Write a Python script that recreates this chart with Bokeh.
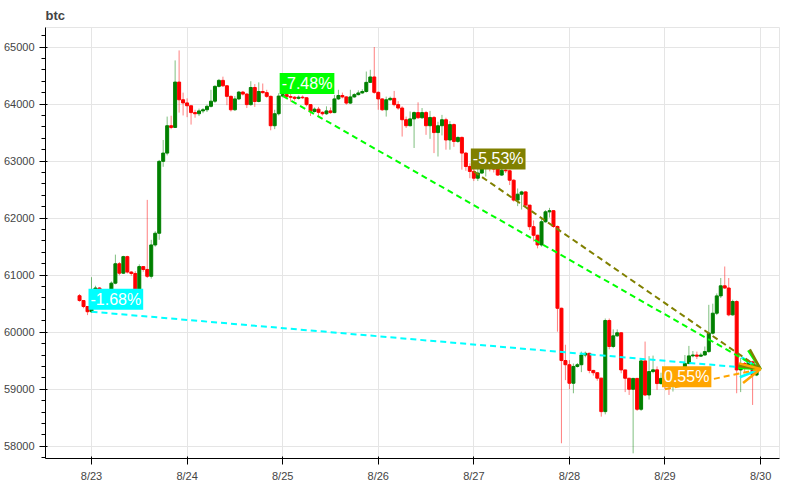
from bokeh.plotting import figure
from bokeh.models import ColumnDataSource, Arrow, OpenHead, Label, FixedTicker, Range1d
from bokeh.embed import file_html
from bokeh.resources import INLINE

# ---- data: hourly candles, hours counted from 8/23 00:00 ----
hours = list(range(-3, 168))
first_open = 60640
close = [
    60555, 60450, 60359, 60740, 60775, 60730, 60700, 60690, 60860, 61200,
    61035, 61325, 61055, 61030, 60700, 61150, 61100, 60980, 61530, 61735,
    62995, 63140, 63620, 63590, 64385, 64075, 64020, 63970, 63850, 63830,
    63880, 63900, 63960, 64050, 64310, 64415, 64320, 64135, 63900, 64090,
    64210, 64175, 63990, 64290, 64045, 64220, 64200, 64135, 63620, 63830,
    64140, 64165, 64130, 64120, 64100, 64120, 64110, 63990, 63870, 63910,
    63855, 63830, 63880, 63850, 64090, 64150, 64125, 64017, 64125, 64165,
    64195, 64220, 64380, 64475, 64205, 64090, 63900, 64075, 64100, 63990,
    63930, 63725, 63620, 63740, 63850, 63760, 63850, 63620, 63765, 63500,
    63620, 63725, 63370, 63640, 63345, 63415, 63140, 62905, 62819, 62700,
    62790, 62870, 62900, 62880, 62860, 62755, 62840, 62830, 62665, 62316,
    62420, 62460, 62228, 61850, 61700, 61530, 61936, 62110, 62130, 61854,
    60420, 59503, 59430, 59105, 59400, 59430, 59600, 59630, 59330, 59290,
    59195, 58608, 60205, 59750, 59936, 59990, 59339, 59193, 59000, 59190,
    58649, 59497, 58900, 59310, 59340, 59100, 59190, 59150, 59100, 59180,
    59200, 59230, 59450, 59585, 59600, 59580, 59600, 59660, 59983, 60333,
    60637, 60813, 60775, 60304, 60538, 59339, 59450, 59400, 59480, 59250,
    59355,
]
high = [
    60670, 60560, 60460, 60965, 60815, 60790, 60740, 60750, 60890, 61360,
    61230, 61340, 61340, 61070, 61070, 61190, 61160, 62320, 61620, 61770,
    63020, 63370, 63780, 63795, 64765, 64940, 64200, 64100, 63960, 63900,
    63920, 63930, 63990, 64250, 64330, 64440, 64480, 64330, 64150, 64140,
    64230, 64230, 64190, 64400, 64350, 64380, 64360, 64250, 64150, 63900,
    64190, 64200, 64170, 64180, 64140, 64150, 64150, 64120, 64000, 63940,
    63950, 63870, 63960, 63940, 64160, 64250, 64200, 64140, 64250, 64190,
    64240, 64260, 64570, 64600, 65000, 64220, 64100, 64130, 64130, 64230,
    64050, 63960, 63780, 63870, 63870, 64030, 63930, 63880, 63880, 63790,
    63690, 63810, 63760, 63700, 63660, 63430, 63430, 63160, 62960, 62900,
    63200, 62950, 62980, 62940, 62920, 62880, 62870, 62880, 62850, 62680,
    62520, 62480, 62470, 62230, 61960, 61710, 61990, 62140, 62180, 62140,
    61870, 60430, 59780, 59510, 59450, 59460, 59660, 59660, 59640, 59340,
    59300, 59200, 60240, 60240, 60050, 60050, 60000, 59340, 59200, 59200,
    59200, 59540, 59836, 59580, 59590, 59400, 59290, 59250, 59200, 59230,
    59260, 59300, 59600, 59760, 59670, 59660, 59640, 59750, 60480, 60500,
    60680, 60950, 61152, 60950, 60570, 60560, 59550, 59480, 59520, 59500,
    59370,
]
low = [
    60535, 60420, 60300, 60340, 60720, 60700, 60640, 60620, 60650, 60840,
    61000, 61020, 61030, 60990, 60680, 60680, 61060, 60950, 60940, 61500,
    61620, 62900, 63100, 63560, 63580, 63850, 63800, 63770, 63640, 63760,
    63790, 63840, 63860, 63940, 64020, 64290, 64300, 63980, 63870, 63880,
    64070, 64150, 63930, 63970, 63950, 64030, 64180, 64110, 63540, 63560,
    63800, 64120, 64100, 64040, 64060, 64080, 64090, 63960, 63790, 63850,
    63780, 63800, 63810, 63830, 63840, 64070, 64100, 63990, 64000, 64110,
    64150, 64180, 64200, 64370, 64180, 63900, 63880, 63780, 64060, 63960,
    63900, 63430, 63580, 63610, 63230, 63740, 63740, 63460, 63390, 63140,
    63080, 63450, 63200, 63200, 63250, 63320, 62850, 62830, 62700, 62650,
    62650, 62780, 62730, 62820, 62800, 62740, 62740, 62790, 62580, 62290,
    62210, 62150, 62200, 61790, 61590, 61470, 61500, 61920, 62010, 61830,
    60010, 58053, 59160, 59000, 58930, 59380, 59300, 59560, 59280, 59240,
    59150, 58520, 58560, 59700, 59720, 59920, 59280, 58950, 58900, 57877,
    58620, 58620, 58880, 58820, 59280, 58990, 59080, 59000, 58900, 58960,
    59100, 59150, 59200, 59440, 59560, 59530, 59570, 59590, 59640, 59960,
    60300, 60600, 60760, 60280, 60290, 58930, 58950, 59300, 59380, 58725,
    59230,
]

day_ticks = [0, 24, 48, 72, 96, 120, 144, 168]
day_labels = ["8/23", "8/24", "8/25", "8/26", "8/27", "8/28", "8/29", "8/30"]
price_ticks = [58000, 59000, 60000, 61000, 62000, 63000, 64000, 65000]

arrow_start_hour = [0, 48, 96, 144]
arrow_start_price = [60359, 64142, 62819, 59000]
arrow_end_hour = 168
arrow_labels = ["-1.68%", "-7.48%", "-5.53%", "0.55%"]
arrow_colors = ["#00ffff", "#00ff00", "#808000", "#ffa500"]

# ---- build ----
opens = [first_open] + close[:-1]
up = [c >= o for o, c in zip(opens, close)]
colors = ["#008000" if u else "#ff0000" for u in up]
src = ColumnDataSource(dict(
    x=hours, open=opens, close=close, high=high, low=low,
    top=[max(o, c) for o, c in zip(opens, close)],
    bottom=[min(o, c) for o, c in zip(opens, close)],
    color=colors,
))

p = figure(width=784, height=484, title="btc", output_backend="svg",
           toolbar_location=None,
           x_range=Range1d(-11.55, 172.75), y_range=Range1d(57786, 65342))
p.min_border_left = 5
p.min_border_right = 5
p.title.text_color = "#444444"
p.title.text_font_size = "13px"

p.segment(x0="x", y0="high", x1="x", y1="low", line_color="color",
          line_alpha=0.5, line_width=1, source=src)
p.vbar(x="x", width=0.75, top="top", bottom="bottom", fill_color="color",
       line_color="color", source=src)

end_price = close[-1]
for xs, ys, txt, col in zip(arrow_start_hour, arrow_start_price, arrow_labels, arrow_colors):
    p.add_layout(Arrow(end=OpenHead(size=20, line_color=col, line_width=2.5),
                       x_start=xs, y_start=ys, x_end=arrow_end_hour, y_end=end_price,
                       line_color=col, line_width=2, line_dash="6 4"))
for xs, ys, txt, col in zip(arrow_start_hour, arrow_start_price, arrow_labels, arrow_colors):
    p.add_layout(Label(x=xs, y=ys, text=txt, text_color="white", text_font_size="16px",
                       background_fill_color=col, background_fill_alpha=1.0,
                       text_baseline="bottom", x_offset=-3, y_offset=2, padding=2))

p.xaxis.ticker = FixedTicker(ticks=day_ticks)
p.xaxis.major_label_overrides = dict(zip(day_ticks, day_labels))
p.xaxis.minor_tick_line_color = None
p.yaxis.ticker = FixedTicker(ticks=price_ticks,
                             minor_ticks=list(range(57800, 65400, 200)))
p.xgrid.grid_line_color = "#e5e5e5"
p.ygrid.grid_line_color = "#e5e5e5"

open("out.html", "w").write(file_html(p, INLINE))
